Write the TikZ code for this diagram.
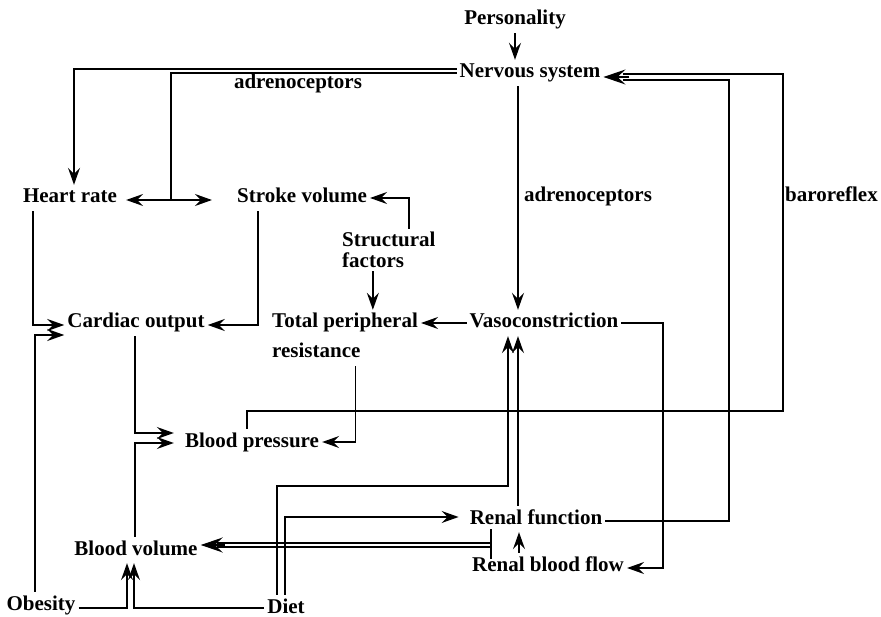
\documentclass[tikz,border=0pt]{standalone}
\usepackage{fontspec}
\setmainfont{Liberation Serif}
\usetikzlibrary{arrows.meta}
\begin{document}
\begin{tikzpicture}[x=1pt,y=-1pt,
  lbl/.style={font=\bfseries\fontsize{21}{21}\selectfont, inner sep=3pt, text height=15pt, text depth=5pt},
  lblm/.style={font=\bfseries\fontsize{21}{21}\selectfont, inner sep=3pt, align=left},
  ln/.style={line width=1.6pt},
  lnt/.style={line width=1.2pt},
  arr/.style={line width=1.6pt, -{Stealth[length=17pt,width=12pt,inset=6pt]}},
  arrB/.style={line width=1.2pt, -{Stealth[length=22pt,width=15pt,inset=8pt]}}
]
\fill[white] (0,0) rectangle (881,617);
\useasboundingbox (0,0) rectangle (881,617);

% nodes
\node[lbl] (pers) at (515,20) {Personality};
\node[lbl] (ns) at (530,73) {Nervous system};
\node[lbl] (adrA) at (298,84) {adrenoceptors};
\node[lbl] (hr) at (70,198) {Heart rate};
\node[lbl] (sv) at (302,198) {Stroke volume};
\node[lblm, anchor=north west] (sf) at (339,229) {Structural\\factors};
\node[lbl] (adrB) at (588,197) {adrenoceptors};
\node[lbl, anchor=west] (baro) at (782,197) {baroreflex};
\node[lbl] (co) at (136,323) {Cardiac output};
\node[lbl, anchor=west] (tpr) at (269,323) {Total peripheral};
\node[lbl, anchor=west] (res) at (269,353) {resistance};
\node[lbl] (vc) at (544,323) {Vasoconstriction};
\node[lbl] (bp) at (252,442) {Blood pressure};
\node[lbl] (rf) at (536,519) {Renal function};
\node[lbl] (bv) at (136,550) {Blood volume};
\node[lbl] (rbf) at (548,566) {Renal blood flow};
\node[lbl] (ob) at (41,605) {Obesity};
\node[lbl] (diet) at (286,608) {Diet};

% helper coordinates
\coordinate (split) at (171,200);
\coordinate (rowD) at (0,486);
\coordinate (hrIn) at ([xshift=4pt]hr.north);
\coordinate (nsS) at ([xshift=-12pt]ns.south);
\coordinate (nsE0) at ([yshift=-4pt]ns.east);
\coordinate (nsE1) at ([yshift=-1pt]ns.east);
\coordinate (nsE2) at ([yshift=-7pt]ns.east);
\coordinate (bpN) at ([xshift=-5pt]bp.north);
\coordinate (sfN) at ([xshift=20pt]sf.north);
\coordinate (sfS) at ([xshift=-16pt]sf.south);
\coordinate (hrS) at ([xshift=-37pt]hr.south);
\coordinate (obN) at ([xshift=-6pt]ob.north);
\coordinate (svS) at ([xshift=-44pt]sv.south);
\coordinate (coS) at ([xshift=-1pt]co.south);
\coordinate (bvN) at ([xshift=-1pt]bv.north);
\coordinate (resS) at ([xshift=-8pt]res.south east);
\coordinate (dtA) at ([xshift=-9pt]diet.north);
\coordinate (vcA) at ([xshift=-36pt]vc.south);
\coordinate (dtB) at ([xshift=-1pt]diet.north);
\coordinate (rfN) at ([xshift=-18pt]rf.north);
\coordinate (rbfN) at ([xshift=-29pt]rbf.north);
\coordinate (rbfE) at ([yshift=-2pt]rbf.east);
\coordinate (rbTop) at ([xshift=-45pt,yshift=3pt]rf.south);
\coordinate (rbBot) at ([yshift=-6pt]rbTop |- rbf.north);
\coordinate (bvE0) at ([yshift=5pt]bv.east);
\coordinate (bvE1) at ([yshift=7pt]bv.east);
\coordinate (bvE2) at ([yshift=3pt]bv.east);
\coordinate (obE) at ([yshift=-3pt]ob.east);
\coordinate (bvS1) at ([xshift=-9pt]bv.south);
\coordinate (bvS2) at ([xshift=-2pt]bv.south);

% Personality -> Nervous system
\draw[arr] (pers.south) -- (pers.south |- ns.north);
% Nervous system -> Heart rate
\draw[arr] ([yshift=4pt]ns.west) -| (hrIn);
% Nervous system -> Heart rate / Stroke volume
\draw[ln] (ns.west) -| (split);
\draw[arr, shorten >=6pt] (split) -- (split -| hr.east);
\draw[arr, shorten >=22pt] (split) -- (split -| sv.west);
% Nervous system -> Vasoconstriction
\draw[arr] (nsS) -- (nsS |- vc.north);
% baroreflex
\draw[ln] (bpN) |- (783,411) -- (783,74) -- ([xshift=20pt]nsE1);
% renal function -> nervous system
\draw[ln] ([yshift=-2pt]rf.east) -| (729,80) -- ([xshift=20pt]nsE2);
\draw[arrB] ([xshift=26pt]nsE0) -- (nsE0);
% Structural factors
\draw[arr] (sfN) |- (sv.east);
\draw[arr] (sfS) -- (sfS |- tpr.north);
% Vasoconstriction -> TPR
\draw[arr] (vc.west) -- (vc.west -| tpr.east);
% Vasoconstriction -> Renal blood flow
\draw[arr] (vc.east) -- (663,323) |- (rbfE);
% Heart rate -> Cardiac output
\draw[arr] (hrS) |- ([yshift=-2pt]co.west);
% Obesity -> Cardiac output
\draw[arr] (obN) |- ([yshift=-12pt]co.west);
% Stroke volume -> Cardiac output
\draw[arr] (svS) |- ([yshift=-2pt]co.east);
% Cardiac output -> Blood pressure
\draw[arr, shorten >=8pt] (coS) |- ([yshift=9pt]bp.west);
% Blood volume -> Blood pressure
\draw[arr, shorten >=8pt] (bvN) |- ([yshift=-1pt]bp.west);
% TPR -> Blood pressure
\draw[arr] (resS) |- (bp.east);
% Diet -> Vasoconstriction
\draw[arr] (dtA) |- (vcA |- rowD) -- (vcA);
% Diet -> Renal function
\draw[arr, shorten >=8pt] (dtB) |- ([yshift=2pt]rf.west);
% Renal function -> Vasoconstriction
\draw[arr] (rfN) -- (rfN |- vc.south);
% Renal blood flow -> Renal function
\draw[arr] (rbfN) -- (rbfN |- rf.south);
% Renal -> Blood volume (double line)
\draw[ln] (rbTop) -- (rbBot);
\draw[lnt, shorten >=16pt] (rbTop |- bvE1) -- (bvE1);
\draw[lnt, shorten >=16pt] (rbTop |- bvE2) -- (bvE2);
\draw[arrB] ([xshift=24pt]bvE0) -- (bvE0);
% Obesity -> Blood volume
\draw[arr] (obE) -| (bvS1);
% Diet -> Blood volume
\draw[arr] (diet.west) -| (bvS2);
\end{tikzpicture}
\end{document}
